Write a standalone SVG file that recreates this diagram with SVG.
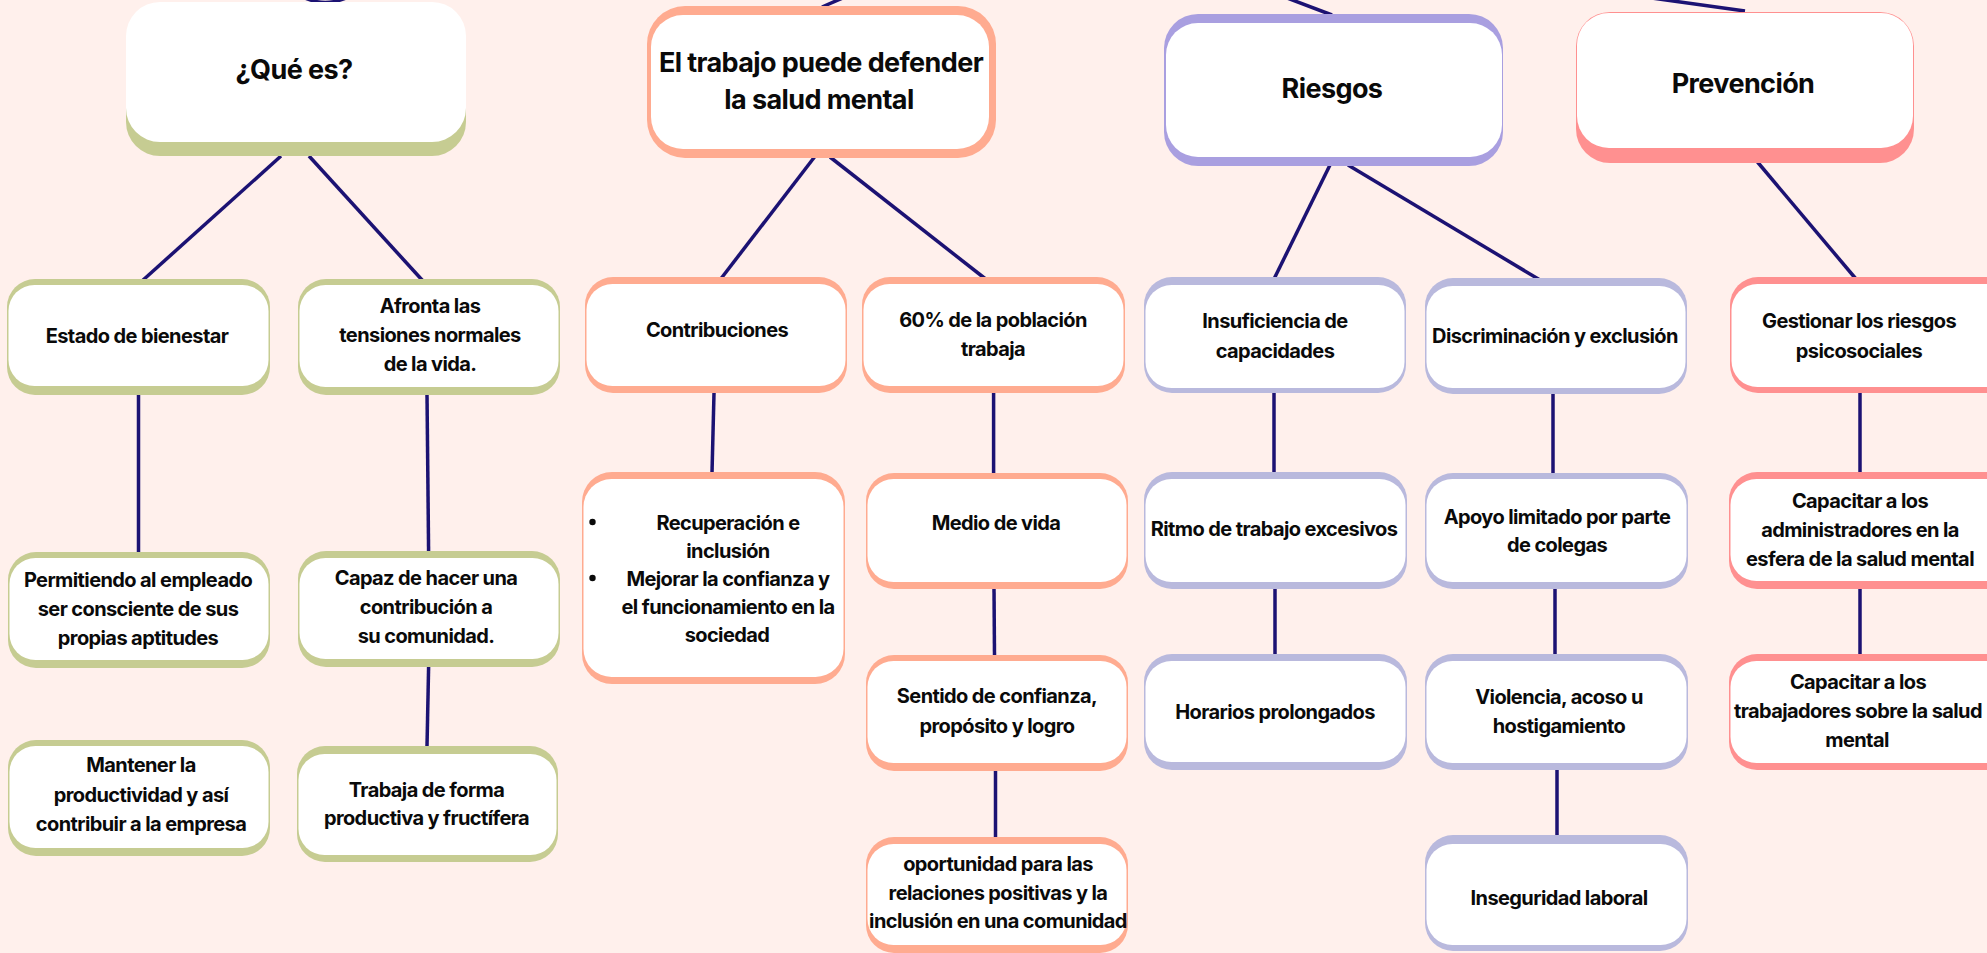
<svg xmlns="http://www.w3.org/2000/svg" width="1987" height="953" viewBox="0 0 1987 953">
<style>
  .bg{fill:#FFF0EC}
  .w{fill:#FFFFFF}
  .g{fill:#C6CC92}
  .o{fill:#FFAB90}
  .p{fill:#A99FE0}
  .l{fill:#B9B9DD}
  .s{fill:#FF9090}
  .c{stroke:#1C1273;stroke-width:3.5;fill:none;stroke-linecap:butt}
  text{font-family:Inter,"Open Sans","Liberation Sans",sans-serif;font-weight:700;fill:#0A0A0A;text-anchor:middle;letter-spacing:-0.6px}
  .t1{font-size:27px}
  .t2{font-size:20px}
</style>
<rect class="bg" x="0" y="0" width="1987" height="953"/>

<g id="connectors">
  <path class="c" d="M305 -2 Q325 7 346 -2"/>
  <line class="c" x1="822" y1="7" x2="845" y2="-3"/>
  <line class="c" x1="1332" y1="15" x2="1266" y2="-10"/>
  <line class="c" x1="1745" y1="11" x2="1630" y2="-5"/>
  <line class="c" x1="281" y1="156" x2="142" y2="281"/>
  <line class="c" x1="309" y1="156" x2="423" y2="281"/>
  <line class="c" x1="138.5" y1="394" x2="138.5" y2="553"/>
  <line class="c" x1="427" y1="394" x2="428.6" y2="552"/>
  <line class="c" x1="428.6" y1="667" x2="427" y2="747"/>
  <line class="c" x1="814.5" y1="157" x2="720.7" y2="279"/>
  <line class="c" x1="830" y1="157" x2="985.6" y2="279"/>
  <line class="c" x1="714" y1="393" x2="712" y2="473"/>
  <line class="c" x1="993.6" y1="393" x2="993.6" y2="474"/>
  <line class="c" x1="994" y1="588" x2="994.5" y2="656"/>
  <line class="c" x1="995.5" y1="770" x2="995.5" y2="838"/>
  <line class="c" x1="1330" y1="165" x2="1274" y2="279"/>
  <line class="c" x1="1348" y1="165" x2="1540" y2="280"/>
  <line class="c" x1="1274" y1="393" x2="1274" y2="473"/>
  <line class="c" x1="1275" y1="588" x2="1275" y2="655"/>
  <line class="c" x1="1553" y1="393" x2="1553" y2="474"/>
  <line class="c" x1="1555" y1="588" x2="1555" y2="655"/>
  <line class="c" x1="1557" y1="769" x2="1557" y2="836"/>
  <line class="c" x1="1757.5" y1="162" x2="1856" y2="279"/>
  <line class="c" x1="1860" y1="393" x2="1860" y2="473"/>
  <line class="c" x1="1860" y1="588" x2="1860" y2="655"/>
</g>

<g id="que-es">
  <rect class="g" x="126" y="16" width="340" height="140" rx="34"/>
  <rect class="w" x="126" y="2" width="340" height="140" rx="34"/>
  <text class="t1" x="294" y="79">¿Qué es?</text>
</g>
<g id="el-trabajo">
  <rect class="o" x="647" y="6" width="349" height="152" rx="38"/>
  <rect class="w" x="651" y="15" width="338" height="134" rx="32"/>
  <text class="t1" x="821" y="72">El trabajo puede defender</text>
  <text class="t1" x="819" y="109">la salud mental</text>
</g>
<g id="riesgos">
  <rect class="p" x="1164" y="14" width="339" height="152" rx="34"/>
  <rect class="w" x="1166" y="23" width="336" height="134" rx="32"/>
  <text class="t1" x="1332" y="98">Riesgos</text>
</g>
<g id="prevencion">
  <rect class="s" x="1576" y="12" width="338" height="151" rx="34"/>
  <rect class="w" x="1577" y="13" width="336" height="135" rx="32"/>
  <text class="t1" x="1743" y="93">Prevención</text>
</g>

<g id="estado">
  <rect class="g" x="7" y="279" width="263" height="116" rx="28"/>
  <rect class="w" x="8.5" y="285" width="260" height="101" rx="26"/>
  <text class="t2" x="137" y="343">Estado de bienestar</text>
</g>
<g id="afronta">
  <rect class="g" x="298" y="279" width="262" height="116" rx="28"/>
  <rect class="w" x="299.5" y="285" width="259" height="102" rx="26"/>
  <text class="t2" x="430" y="313">Afronta las</text>
  <text class="t2" x="430" y="342">tensiones normales</text>
  <text class="t2" x="430" y="371">de la vida.</text>
</g>
<g id="contribuciones">
  <rect class="o" x="585" y="277" width="262" height="116" rx="28"/>
  <rect class="w" x="586.5" y="284" width="259" height="102" rx="26"/>
  <text class="t2" x="717" y="337">Contribuciones</text>
</g>
<g id="poblacion">
  <rect class="o" x="862" y="277" width="263" height="116" rx="28"/>
  <rect class="w" x="863.5" y="284" width="260" height="102" rx="26"/>
  <text class="t2" x="993" y="327">60% de la población</text>
  <text class="t2" x="993" y="356">trabaja</text>
</g>
<g id="insuficiencia">
  <rect class="l" x="1144" y="277" width="262" height="116" rx="28"/>
  <rect class="w" x="1145.5" y="285" width="259" height="103" rx="26"/>
  <text class="t2" x="1275" y="328">Insuficiencia de</text>
  <text class="t2" x="1275" y="358">capacidades</text>
</g>
<g id="discriminacion">
  <rect class="l" x="1425" y="278" width="262" height="116" rx="28"/>
  <rect class="w" x="1426.5" y="286" width="259" height="102" rx="26"/>
  <text class="t2" x="1555" y="343">Discriminación y exclusión</text>
</g>
<g id="gestionar">
  <rect class="s" x="1730" y="277" width="290" height="116" rx="28"/>
  <rect class="w" x="1731.5" y="284" width="287" height="103" rx="26"/>
  <text class="t2" x="1859" y="328">Gestionar los riesgos</text>
  <text class="t2" x="1859" y="358">psicosociales</text>
</g>

<g id="permitiendo">
  <rect class="g" x="8" y="552" width="262" height="116" rx="28"/>
  <rect class="w" x="9.5" y="558" width="259" height="102" rx="26"/>
  <text class="t2" x="138" y="587">Permitiendo al empleado</text>
  <text class="t2" x="138" y="616">ser consciente de sus</text>
  <text class="t2" x="138" y="645">propias aptitudes</text>
</g>
<g id="capaz">
  <rect class="g" x="298" y="551" width="262" height="116" rx="28"/>
  <rect class="w" x="299.5" y="558" width="259" height="101" rx="26"/>
  <text class="t2" x="426" y="585">Capaz de hacer una</text>
  <text class="t2" x="426" y="614">contribución a</text>
  <text class="t2" x="426" y="643">su comunidad.</text>
</g>
<g id="mantener">
  <rect class="g" x="8" y="740" width="262" height="116" rx="28"/>
  <rect class="w" x="9.5" y="746" width="259" height="102" rx="26"/>
  <text class="t2" x="141" y="772">Mantener la</text>
  <text class="t2" x="141" y="802">productividad y así</text>
  <text class="t2" x="141" y="831">contribuir a la empresa</text>
</g>
<g id="trabaja">
  <rect class="g" x="297" y="746" width="261" height="116" rx="28"/>
  <rect class="w" x="298.5" y="754" width="258" height="101" rx="26"/>
  <text class="t2" x="426.5" y="797">Trabaja de forma</text>
  <text class="t2" x="426.5" y="825">productiva y fructífera</text>
</g>

<g id="recuperacion">
  <rect class="o" x="582" y="472" width="263" height="212" rx="30"/>
  <rect class="w" x="583.5" y="479" width="260" height="198" rx="28"/>
  <circle cx="592.5" cy="522" r="3.2" fill="#0A0A0A"/>
  <circle cx="592.5" cy="578" r="3.2" fill="#0A0A0A"/>
  <text class="t2" x="728" y="530">Recuperación e</text>
  <text class="t2" x="728" y="558">inclusión</text>
  <text class="t2" x="728" y="586">Mejorar la confianza y</text>
  <text class="t2" x="728" y="614">el funcionamiento en la</text>
  <text class="t2" x="727" y="642">sociedad</text>
</g>
<g id="medio">
  <rect class="o" x="866" y="473" width="262" height="116" rx="28"/>
  <rect class="w" x="867.5" y="479" width="259" height="103" rx="26"/>
  <text class="t2" x="996" y="530">Medio de vida</text>
</g>
<g id="sentido">
  <rect class="o" x="866" y="655" width="262" height="116" rx="28"/>
  <rect class="w" x="867.5" y="661" width="259" height="102" rx="26"/>
  <text class="t2" x="997" y="703">Sentido de confianza,</text>
  <text class="t2" x="997" y="733">propósito y logro</text>
</g>
<g id="oportunidad">
  <rect class="o" x="866" y="837" width="262" height="116" rx="28"/>
  <rect class="w" x="867.5" y="844" width="259" height="101" rx="26"/>
  <text class="t2" x="998" y="871">oportunidad para las</text>
  <text class="t2" x="998" y="900">relaciones positivas y la</text>
  <text class="t2" x="998" y="928">inclusión en una comunidad</text>
</g>

<g id="ritmo">
  <rect class="l" x="1144" y="472" width="263" height="117" rx="28"/>
  <rect class="w" x="1145.5" y="479" width="260" height="103" rx="26"/>
  <text class="t2" x="1274" y="536">Ritmo de trabajo excesivos</text>
</g>
<g id="horarios">
  <rect class="l" x="1144" y="654" width="263" height="116" rx="28"/>
  <rect class="w" x="1145.5" y="661" width="260" height="101" rx="26"/>
  <text class="t2" x="1275" y="718.5">Horarios prolongados</text>
</g>
<g id="apoyo">
  <rect class="l" x="1425" y="473" width="263" height="116" rx="28"/>
  <rect class="w" x="1426.5" y="479" width="260" height="103" rx="26"/>
  <text class="t2" x="1557" y="523.5">Apoyo limitado por parte</text>
  <text class="t2" x="1557" y="552">de colegas</text>
</g>
<g id="violencia">
  <rect class="l" x="1425" y="654" width="263" height="116" rx="28"/>
  <rect class="w" x="1426.5" y="661" width="260" height="102" rx="26"/>
  <text class="t2" x="1559" y="704">Violencia, acoso u</text>
  <text class="t2" x="1559" y="733">hostigamiento</text>
</g>
<g id="inseguridad">
  <rect class="l" x="1425" y="835" width="263" height="116" rx="28"/>
  <rect class="w" x="1426.5" y="844" width="260" height="101" rx="26"/>
  <text class="t2" x="1559" y="905">Inseguridad laboral</text>
</g>
<g id="capacitar-admin">
  <rect class="s" x="1729" y="472" width="290" height="117" rx="28"/>
  <rect class="w" x="1730.5" y="479" width="287" height="102" rx="26"/>
  <text class="t2" x="1860" y="508">Capacitar a los</text>
  <text class="t2" x="1860" y="537">administradores en la</text>
  <text class="t2" x="1860" y="566">esfera de la salud mental</text>
</g>
<g id="capacitar-trab">
  <rect class="s" x="1729" y="654" width="290" height="116" rx="28"/>
  <rect class="w" x="1730.5" y="661" width="287" height="102" rx="26"/>
  <text class="t2" x="1858" y="689">Capacitar a los</text>
  <text class="t2" x="1858" y="718">trabajadores sobre la salud</text>
  <text class="t2" x="1857" y="747">mental</text>
</g>
</svg>
